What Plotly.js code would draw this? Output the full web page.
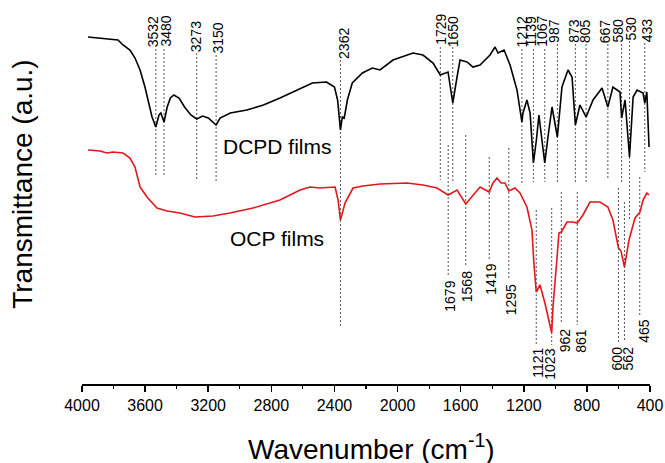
<!DOCTYPE html>
<html>
<head>
<meta charset="utf-8">
<script src="https://cdn.plot.ly/plotly-3.0.1.min.js"></script>
<style>html,body{margin:0;padding:0;background:#fff}#chart{width:665px;height:463px}</style>
</head>
<body>
<div id="chart"></div>
<script>
// ---- DCPD films (black) spectrum: wavenumber (cm-1) and transmittance (a.u., offset)
const dcpdWavenumber = [3962,3886,3804,3772,3740,3696,3664,3632,3601,3582,3556,3532,3512,3500,3480,3460,3440,3418,3385,3350,3310,3273,3235,3200,3150,3125,3060,2955,2850,2745,2640,2540,2450,2400,2380,2362,2350,2338,2318,2287,2223,2160,2111,2029,1902,1839,1775,1729,1680,1650,1623,1604,1560,1522,1477,1414,1382,1363,1325,1287,1243,1212,1205,1180,1160,1150,1139,1120,1104,1085,1067,1045,1021,987,958,920,894,873,844,805,761,704,667,635,590,580,558,530,507,482,444,433,420,406];
const dcpdTransmittance = [3.47,3.46,3.45,3.44,3.39,3.34,3.26,3.14,2.97,2.84,2.67,2.57,2.69,2.71,2.62,2.77,2.86,2.89,2.86,2.77,2.69,2.65,2.68,2.66,2.59,2.66,2.71,2.74,2.79,2.86,2.94,3.01,3.02,2.97,2.84,2.54,2.67,2.66,2.84,3.01,3.11,3.16,3.14,3.24,3.31,3.29,3.21,3.09,3.12,2.81,3.07,3.24,3.22,3.17,3.19,3.29,3.37,3.31,3.34,3.19,2.94,2.62,2.71,2.84,2.71,2.44,2.21,2.44,2.69,2.44,2.21,2.49,2.77,2.47,2.97,3.14,3.07,2.59,2.79,2.67,2.84,2.96,2.77,2.97,2.92,2.66,2.84,2.27,2.87,2.94,2.91,2.81,2.92,2.37];

// ---- OCP films (red) spectrum
const ocpWavenumber = [3962,3886,3842,3804,3740,3696,3664,3632,3588,3525,3461,3379,3284,3170,3062,2916,2745,2618,2555,2492,2396,2377,2362,2333,2282,2219,2111,1940,1839,1750,1680,1623,1568,1528,1477,1419,1395,1370,1344,1319,1295,1256,1224,1180,1148,1136,1121,1097,1066,1023,1015,989,977,962,926,888,861,825,780,717,667,635,600,584,562,533,495,463,444,420,406];
const ocpTransmittance = [2.34,2.33,2.31,2.32,2.31,2.26,2.17,1.97,1.87,1.76,1.73,1.71,1.67,1.68,1.71,1.76,1.84,1.94,1.97,1.96,1.97,1.84,1.64,1.81,1.96,1.98,2.00,2.01,1.99,1.96,1.89,1.94,1.80,1.87,1.97,1.92,2.01,2.06,2.01,2.01,1.93,1.96,1.91,1.77,1.54,1.21,0.92,0.99,0.81,0.51,0.77,1.27,1.51,1.52,1.62,1.62,1.61,1.69,1.82,1.82,1.77,1.64,1.36,1.33,1.17,1.44,1.66,1.72,1.84,1.91,1.89];

// ---- band labels
const dcpdBands = [3532,3480,3273,3150,2362,1729,1650,1212,1139,1067,987,873,805,667,580,530,433];
const ocpBands  = [1679,1568,1419,1295,1121,1023,962,861,600,562,465];
const xTickVals = [4000,3600,3200,2800,2400,2000,1600,1200,800,400];

// layout helpers (label placement, in a.u. of the y axis and pixel shifts)
const dcpdLabelTop  = [3.69,3.69,3.64,3.62,3.57,3.71,3.69,3.69,3.69,3.69,3.66,3.66,3.66,3.66,3.66,3.69,3.67];
const dcpdLabelShift= [-3,1,-1,1,3,0,0,0,-2,-3.5,-3.5,-1.5,-1,-2.5,-4,2,2.5];
const dcpdLineTop   = [3.35,3.35,3.31,3.29,3.24,3.37,3.37,3.35,3.35,3.35,3.40,3.40,3.40,3.40,3.40,3.43,3.41];
const dcpdLineBot   = [2.09,2.09,2.04,2.01,0.56,2.04,2.01,2.01,2.02,2.02,2.02,2.02,2.02,2.04,2.02,1.64,2.12];
const ocpLineTop    = [2.39,2.49,2.27,2.36,1.74,1.76,1.92,1.92,1.96,1.82,2.07];
const ocpLineBot    = [1.07,1.17,1.24,1.04,0.40,0.39,0.60,0.59,0.42,0.42,0.69];
const ocpLabelTop   = [1.04,1.14,1.21,1.01,0.37,0.36,0.57,0.56,0.39,0.39,0.66];
const ocpLabelShift = [1,1,1,2,1.5,-2.5,4,3.5,-1,4,4];

const FONT = 'Arial, "Liberation Sans", sans-serif';
const shapes = [];
const annotations = [];
dcpdBands.forEach((w,i)=>{
  shapes.push({type:'line',xref:'x',yref:'y',x0:w,x1:w,y0:dcpdLineTop[i],y1:dcpdLineBot[i],
    line:{color:'#555',width:1,dash:'2px,2px'},layer:'below'});
  annotations.push({x:w,y:dcpdLabelTop[i],xref:'x',yref:'y',text:String(w),showarrow:false,
    textangle:-90,xanchor:'center',yanchor:'top',xshift:dcpdLabelShift[i],borderpad:0,
    font:{family:FONT,size:14,color:'#000'}});
});
ocpBands.forEach((w,i)=>{
  shapes.push({type:'line',xref:'x',yref:'y',x0:w,x1:w,y0:ocpLineTop[i],y1:ocpLineBot[i],
    line:{color:'#555',width:1,dash:'2px,2px'},layer:'below'});
  annotations.push({x:w,y:ocpLabelTop[i],xref:'x',yref:'y',text:String(w),showarrow:false,
    textangle:-90,xanchor:'center',yanchor:'top',xshift:ocpLabelShift[i],borderpad:0,
    font:{family:FONT,size:14,color:'#000'}});
});
annotations.push({x:2764,y:2.38,xref:'x',yref:'y',text:'DCPD films',showarrow:false,
  xanchor:'center',yanchor:'middle',font:{family:FONT,size:21,color:'#000'}});
annotations.push({x:2764,y:1.46,xref:'x',yref:'y',text:'OCP films',showarrow:false,
  xanchor:'center',yanchor:'middle',font:{family:FONT,size:21,color:'#000'}});
// axis titles placed as in the reference
annotations.push({xref:'paper',yref:'paper',x:-0.104,y:0.528,text:'Transmittance (a.u.)',showarrow:false,
  textangle:-90,xanchor:'center',yanchor:'middle',font:{family:FONT,size:28,color:'#000'}});
annotations.push({xref:'paper',yref:'paper',x:0.509,y:-0.165,text:'Wavenumber (cm<sup>-1</sup>)',showarrow:false,
  xanchor:'center',yanchor:'middle',font:{family:FONT,size:28,color:'#000'}});

const traces = [
  {x:dcpdWavenumber,y:dcpdTransmittance,type:'scatter',mode:'lines',name:'DCPD films',
   line:{color:'#000',width:1.6},hoverinfo:'skip'},
  {x:ocpWavenumber,y:ocpTransmittance,type:'scatter',mode:'lines',name:'OCP films',
   line:{color:'#e3161d',width:1.6},hoverinfo:'skip'}
];

const layout = {
  width:665,height:463,
  margin:{l:82,r:15,t:5,b:79},
  paper_bgcolor:'#fff',plot_bgcolor:'#fff',
  showlegend:false,
  font:{family:FONT,color:'#000'},
  xaxis:{range:[4000,400],tickvals:xTickVals,ticktext:xTickVals.map(String),
    ticks:'outside',ticklen:6,tickwidth:1.5,tickcolor:'#000',
    minor:{dtick:200,tick0:0,ticks:'outside',ticklen:3,tickwidth:1.2,tickcolor:'#000'},
    showline:true,linecolor:'#000',linewidth:1.5,showgrid:false,zeroline:false,
    tickfont:{family:FONT,size:16,color:'#000'}},
  yaxis:{range:[0,3.79],showline:false,showticklabels:false,ticks:'',showgrid:false,zeroline:false},
  shapes:shapes,
  annotations:annotations
};
Plotly.newPlot('chart',traces,layout,{displayModeBar:false,staticPlot:true});
</script>
</body>
</html>
